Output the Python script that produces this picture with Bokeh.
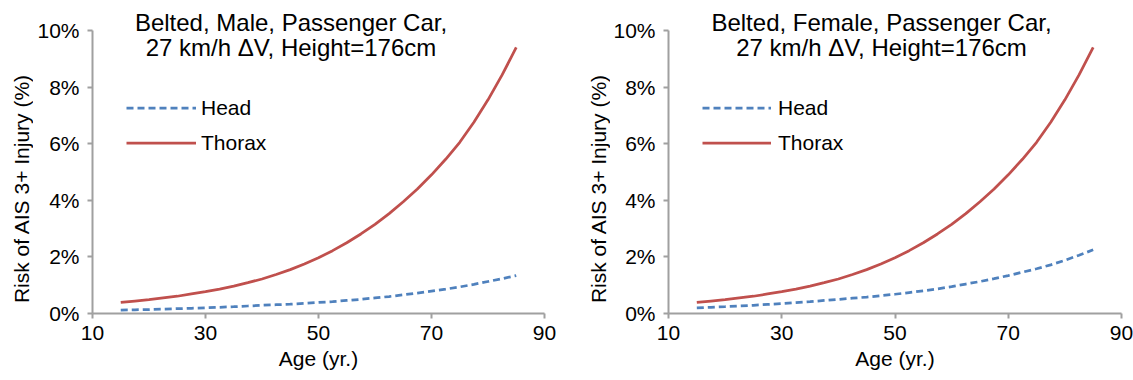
import math
from bokeh.plotting import figure
from bokeh.layouts import row
from bokeh.models import FixedTicker, PrintfTickFormatter, Label, Legend, LegendItem, Range1d
from bokeh.core.properties import value
from bokeh.embed import file_html
from bokeh.resources import INLINE

# ---- data (risk of AIS 3+ injury, in %) ----
ages = [15, 17.5, 20, 22.5, 25, 27.5, 30, 32.5, 35, 37.5, 40, 42.5, 45, 47.5, 50,
        52.5, 55, 57.5, 60, 62.5, 65, 67.5, 70, 72.5, 75, 77.5, 80, 82.5, 85]
male_head = [0.12, 0.13, 0.14, 0.155, 0.17, 0.185, 0.20, 0.22, 0.24, 0.265, 0.29, 0.31, 0.33, 0.36, 0.39,
             0.42, 0.46, 0.50, 0.55, 0.60, 0.66, 0.72, 0.79, 0.86, 0.94, 1.03, 1.13, 1.23, 1.34]
male_thorax = [0.39, 0.44, 0.49, 0.55, 0.61, 0.69, 0.77, 0.86, 0.97, 1.09, 1.22, 1.38, 1.55, 1.75, 1.97,
               2.22, 2.50, 2.81, 3.15, 3.53, 3.95, 4.40, 4.90, 5.45, 6.05, 6.76, 7.55, 8.43, 9.40]
female_head = [0.20, 0.22, 0.24, 0.265, 0.29, 0.32, 0.35, 0.385, 0.42, 0.46, 0.50, 0.54, 0.58, 0.63, 0.68,
               0.74, 0.80, 0.87, 0.95, 1.04, 1.13, 1.23, 1.34, 1.46, 1.58, 1.72, 1.88, 2.06, 2.25]
female_thorax = [0.39, 0.44, 0.49, 0.55, 0.61, 0.69, 0.77, 0.86, 0.97, 1.09, 1.22, 1.38, 1.55, 1.75, 1.97,
                 2.22, 2.50, 2.81, 3.15, 3.53, 3.95, 4.40, 4.90, 5.45, 6.05, 6.76, 7.55, 8.43, 9.40]

x_ticks = [10, 30, 50, 70, 90]
y_ticks = [0, 2, 4, 6, 8, 10]
series_names = ["Head", "Thorax"]
titles = [
    ("Belted, Male, Passenger Car,", "27 km/h \u0394V, Height=176cm"),
    ("Belted, Female, Passenger Car,", "27 km/h \u0394V, Height=176cm"),
]
x_label = "Age (yr.)"
y_label = "Risk of AIS 3+ Injury (%)"

FONT = "Liberation Sans"
AXIS_COLOR = "#a0a0a0"
BLUE = "#4f81bd"
RED = "#c0504d"
H = 380
Y_TOP = 11.06  # frame top sits above 10%, leaving room for the title


def make_ylabel_fig(width, cx):
    # narrow companion figure holding the rotated y-axis title; its frame is
    # aligned with the neighbouring plot's frame by the row layout
    f = figure(width=width, height=H, output_backend="svg", toolbar_location=None,
               x_axis_type=None, y_axis_type=None,
               x_range=Range1d(0, width), y_range=Range1d(0, Y_TOP),
               min_border_left=0, min_border_right=0, min_border_top=0, min_border_bottom=67)
    f.outline_line_color = None
    f.text(x=[cx], y=[4.42], text=[y_label], angle=math.pi / 2,
           text_align="center", text_baseline="middle",
           text_font=value(FONT), text_font_size="21px", text_color="black")
    return f


def make_panel(title, head, thorax, width, bl, br, title_x, glyph_w, standoff):
    p = figure(width=width, height=H, output_backend="svg", toolbar_location=None,
               x_range=Range1d(10, 90), y_range=Range1d(0, Y_TOP),
               min_border_left=bl, min_border_right=br, min_border_top=0, min_border_bottom=67)
    p.outline_line_color = None
    p.xgrid.visible = False
    p.ygrid.visible = False

    r_head = p.line(ages, head, line_color=BLUE, line_width=2.75, line_dash="7 4")
    r_thor = p.line(ages, thorax, line_color=RED, line_width=2.75)

    for ax in (p.xaxis[0], p.yaxis[0]):
        ax.axis_line_color = AXIS_COLOR
        ax.axis_line_width = 2
        ax.major_tick_line_color = AXIS_COLOR
        ax.major_tick_line_width = 2
        ax.major_tick_out = 5
        ax.major_tick_in = 0
        ax.minor_tick_line_color = None
        ax.major_label_text_font = FONT
        ax.major_label_text_font_size = "21px"
        ax.major_label_text_color = "black"

    p.xaxis.ticker = FixedTicker(ticks=x_ticks)
    p.yaxis.ticker = FixedTicker(ticks=y_ticks)
    p.yaxis.bounds = (0, 10)
    p.yaxis.formatter = PrintfTickFormatter(format="%d%%")
    p.xaxis.major_label_standoff = 7
    p.yaxis.major_label_standoff = 8

    p.xaxis.axis_label = x_label
    p.xaxis.axis_label_text_font = FONT
    p.xaxis.axis_label_text_font_size = "21px"
    p.xaxis.axis_label_text_font_style = "normal"
    p.xaxis.axis_label_text_color = "black"
    p.xaxis.axis_label_standoff = 4

    p.add_layout(Label(x=title_x, y=10.265, text=title[0], text_align="center",
                       text_baseline="middle", text_font=FONT, text_font_size="24px",
                       text_color="black"))
    p.add_layout(Label(x=title_x, y=9.40, text=title[1], text_align="center",
                       text_baseline="middle", text_font=FONT, text_font_size="24px",
                       text_color="black"))

    legend = Legend(items=[LegendItem(label=series_names[0], renderers=[r_head]),
                           LegendItem(label=series_names[1], renderers=[r_thor])],
                    location=(34, 153))
    legend.glyph_width = glyph_w
    legend.glyph_height = 35
    legend.label_height = 35
    legend.spacing = 0
    legend.padding = 0
    legend.margin = 0
    legend.label_standoff = standoff
    legend.border_line_color = None
    legend.background_fill_alpha = 0
    legend.label_text_font = FONT
    legend.label_text_font_size = "21px"
    legend.label_text_color = "black"
    p.add_layout(legend, "center")
    return p


lab1 = make_ylabel_fig(33, 20.5)
p1 = make_panel(titles[0], male_head, male_thorax, 552, 59, 41, 45.13, 70, 5)
lab2 = make_ylabel_fig(25, 12.5)
p2 = make_panel(titles[1], female_head, female_thorax, 523, 58, 12, 47.62, 69, 7)

layout = row(lab1, p1, lab2, p2)
open("out.html", "w").write(file_html(layout, INLINE))
